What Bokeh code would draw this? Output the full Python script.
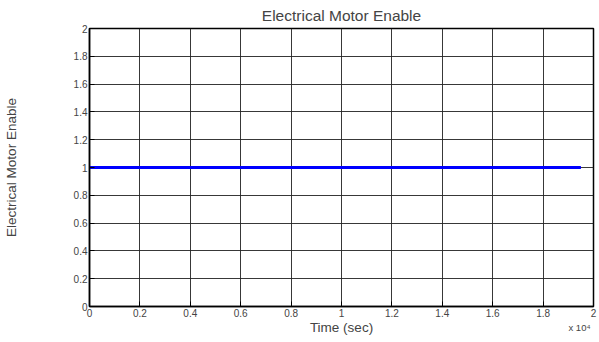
from bokeh.plotting import figure
from bokeh.models import Range1d, FixedTicker, Title
from bokeh.embed import file_html
from bokeh.resources import INLINE

# Motor enable flag over the run (time in seconds)
time_sec = [0, 19500]
motor_enable = [1, 1]

x_ticks = [0, 0.2, 0.4, 0.6, 0.8, 1.0, 1.2, 1.4, 1.6, 1.8, 2.0]
y_ticks = [0, 0.2, 0.4, 0.6, 0.8, 1.0, 1.2, 1.4, 1.6, 1.8, 2.0]
x_scale = 1e4

FONT = "Liberation Sans"

p = figure(width=599, height=342, output_backend="svg", toolbar_location=None,
           x_range=Range1d(0, 2), y_range=Range1d(0, 2),
           min_border_left=89, min_border_right=6, min_border_top=28,
           min_border_bottom=36, title="Electrical Motor Enable")

p.title.align = "center"
p.title.text_font = FONT
p.title.text_font_size = "15.5px"
p.title.text_font_style = "normal"
p.title.standoff = 9

p.line([t / x_scale for t in time_sec], motor_enable, line_color="#0000ff", line_width=3)

for ax in (p.xaxis[0], p.yaxis[0]):
    ax.major_label_text_font = FONT
    ax.major_label_text_font_size = "10px"
    ax.axis_label_text_font = FONT
    ax.axis_label_text_font_size = "13.5px"
    ax.axis_label_text_font_style = "normal"
    ax.major_tick_in = 5
    ax.major_tick_out = 0
    ax.minor_tick_line_color = None
    ax.axis_line_color = "black"
    ax.axis_line_width = 1.5
    ax.major_tick_line_color = "black"
    ax.major_label_standoff = 2

p.xaxis[0].ticker = FixedTicker(ticks=x_ticks)
p.yaxis[0].ticker = FixedTicker(ticks=y_ticks)
p.xaxis[0].major_label_overrides = {t: f"{t:g}" for t in x_ticks}
p.yaxis[0].major_label_overrides = {t: f"{t:g}" for t in y_ticks}
p.xaxis[0].axis_label = "Time (sec)"
p.xaxis[0].axis_label_standoff = 0
p.yaxis[0].axis_label = "Electrical Motor Enable"
p.yaxis[0].axis_label_standoff = 52

p.xgrid.ticker = FixedTicker(ticks=x_ticks)
p.ygrid.ticker = FixedTicker(ticks=y_ticks)
p.grid.grid_line_color = "#222222"
p.grid.grid_line_width = 1
p.grid.grid_line_alpha = 0.9
p.outline_line_color = "black"
p.outline_line_width = 1.5

# Exponent note under the right end of the x axis
p.add_layout(Title(text="x 10\u2074", align="right", vertical_align="top",
                   text_font=FONT, text_font_size="9.5px",
                   text_font_style="normal", standoff=-32, offset=3), "below")

p.background_fill_color = "white"
p.border_fill_color = "white"

open("out.html", "w").write(file_html(p, INLINE))
